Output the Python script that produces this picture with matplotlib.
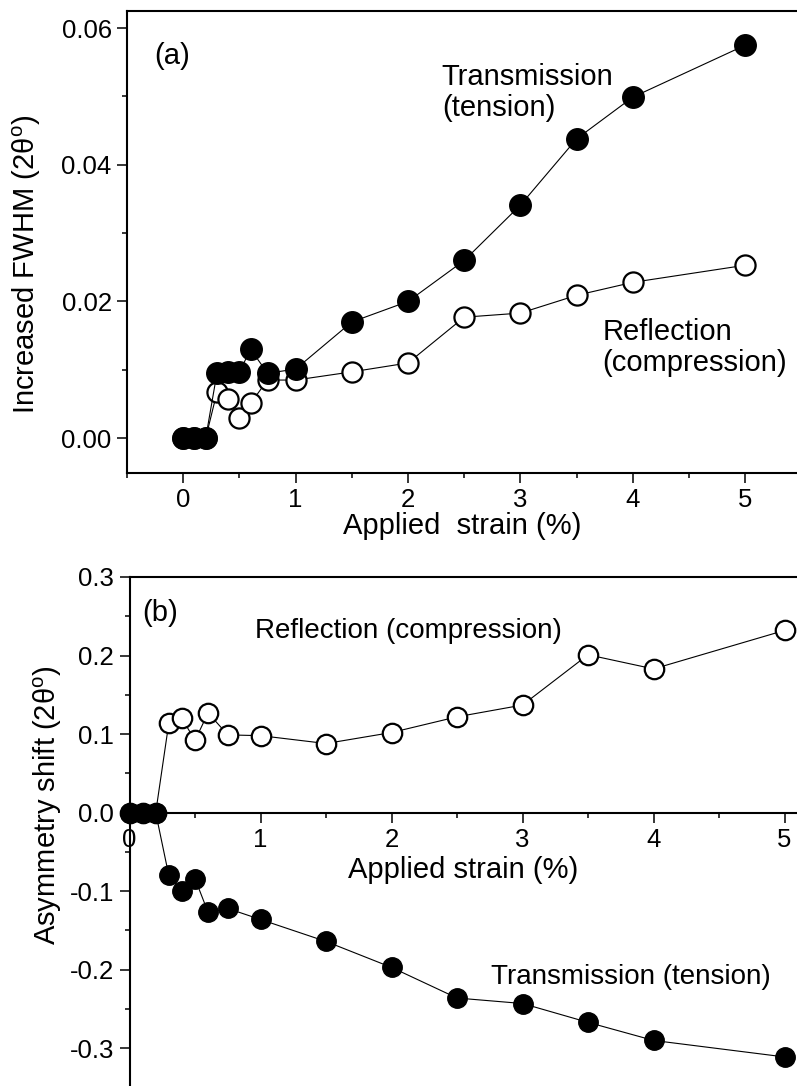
import matplotlib
matplotlib.use("Agg")
import matplotlib.pyplot as plt
from matplotlib.ticker import MultipleLocator, FormatStrFormatter

plt.rcParams['font.family'] = ['Liberation Sans', 'DejaVu Sans']
plt.rcParams['mathtext.fontset'] = 'custom'
plt.rcParams['mathtext.rm'] = 'Liberation Sans'
plt.rcParams['axes.unicode_minus'] = False

# (a) Increased FWHM
strain_a = [0, 0.1, 0.2, 0.3, 0.4, 0.5, 0.6, 0.75, 1.0, 1.5, 2.0, 2.5, 3.0, 3.5, 4.0, 5.0]
fwhm_trans = [0, 0, 0, 0.0095, 0.0097, 0.0097, 0.0130, 0.0095, 0.0101, 0.0170,
              0.0200, 0.0260, 0.0341, 0.0438, 0.0499, 0.0575]
fwhm_refl = [0, 0, 0, 0.0067, 0.0057, 0.0029, 0.0051, 0.0085, 0.0085, 0.0097,
             0.0110, 0.0177, 0.0183, 0.0209, 0.0228, 0.0253]

# (b) Asymmetry shift
strain_b = [0, 0.1, 0.2, 0.3, 0.4, 0.5, 0.6, 0.75, 1.0, 1.5, 2.0, 2.5, 3.0, 3.5, 4.0, 5.0]
asym_refl = [0, 0, 0, 0.114, 0.120, 0.092, 0.127, 0.099, 0.098, 0.088,
             0.102, 0.122, 0.137, 0.201, 0.183, 0.232]
asym_trans = [0, 0, 0, -0.080, -0.100, -0.084, -0.127, -0.122, -0.136, -0.164,
              -0.197, -0.236, -0.243, -0.267, -0.290, -0.311]

W, H = 797, 1086
fig = plt.figure(figsize=(W / 100, H / 100), dpi=100)

tick_fs = 18.5
label_fs = 21

def style(ax):
    ax.tick_params(which='major', direction='out', length=7, width=1.1,
                   labelsize=tick_fs, pad=4)
    ax.tick_params(which='minor', direction='out', length=3.6, width=1.1)
    for s in ax.spines.values():
        s.set_linewidth(1.5)
    ax.spines['right'].set_visible(False)
    ax.tick_params(top=False, right=False, which='both')

def draw(ax, x, y, filled, ms):
    if filled:
        ax.plot(x, y, '-', color='black', lw=0.8, marker='o', ms=ms,
                mfc='black', mec='black', mew=1.0, clip_on=False, zorder=4)
    else:
        ax.plot(x, y, '-', color='black', lw=0.8, marker='o', ms=ms,
                mfc='white', mec='black', mew=1.6, clip_on=False, zorder=3)

# ---- top panel ----
ax1 = fig.add_axes([127 / W, 1 - 473 / H, 670 / W, 462 / H])
style(ax1)
draw(ax1, strain_a, fwhm_refl, False, 14.5)
draw(ax1, strain_a, fwhm_trans, True, 15.5)
ax1.set_xlim(-0.5, 5.46)
ax1.set_ylim(-0.0051, 0.0625)
ax1.xaxis.set_major_locator(MultipleLocator(1))
ax1.xaxis.set_minor_locator(MultipleLocator(0.5))
ax1.yaxis.set_major_locator(MultipleLocator(0.02))
ax1.yaxis.set_minor_locator(MultipleLocator(0.01))
ax1.yaxis.set_major_formatter(FormatStrFormatter('%.2f'))
ax1.set_xlabel('Applied  strain (%)', fontsize=label_fs, labelpad=0)
ax1.text(-0.26, 0.0559, '(a)', fontsize=label_fs, ha='left', va='center')
ax1.text(2.30, 0.0506, 'Transmission\n(tension)', fontsize=label_fs,
         ha='left', va='center', linespacing=1.15)
ax1.text(3.73, 0.0133, 'Reflection\n(compression)', fontsize=label_fs,
         ha='left', va='center', linespacing=1.15)
fig.text(27 / W, 1 - 264 / H, 'Increased FWHM (2θ$^{\\mathrm{o}}$)',
         fontsize=label_fs, rotation=90, ha='center', va='center')

# ---- bottom panel ----
ax2 = fig.add_axes([129.5 / W, 0, (W - 129.5) / W, (H - 577) / H])
style(ax2)
ax2.spines['bottom'].set_position(('data', 0))
draw(ax2, strain_b, asym_refl, False, 14)
draw(ax2, strain_b, asym_trans, True, 14)
ax2.set_xlim(0, 5.095)
ax2.set_ylim(-0.348, 0.3)
ax2.xaxis.set_major_locator(MultipleLocator(1))
ax2.xaxis.set_minor_locator(MultipleLocator(0.5))
ax2.yaxis.set_major_locator(MultipleLocator(0.1))
ax2.yaxis.set_minor_locator(MultipleLocator(0.05))
ax2.yaxis.set_major_formatter(FormatStrFormatter('%.1f'))
ax2.xaxis.set_major_formatter(FormatStrFormatter('%d'))
ax2.text(2.55, -0.073, 'Applied strain (%)', fontsize=label_fs,
         ha='center', va='center')
ax2.text(0.095, 0.254, '(b)', fontsize=label_fs, ha='left', va='center')
ax2.text(0.96, 0.231, 'Reflection (compression)', fontsize=20,
         ha='left', va='center')
ax2.text(2.76, -0.209, 'Transmission (tension)', fontsize=20,
         ha='left', va='center')
fig.text(48 / W, 1 - 805 / H, 'Asymmetry shift (2θ$^{\\mathrm{o}}$)',
         fontsize=label_fs, rotation=90, ha='center', va='center')

fig.savefig('out.png', dpi=100)
